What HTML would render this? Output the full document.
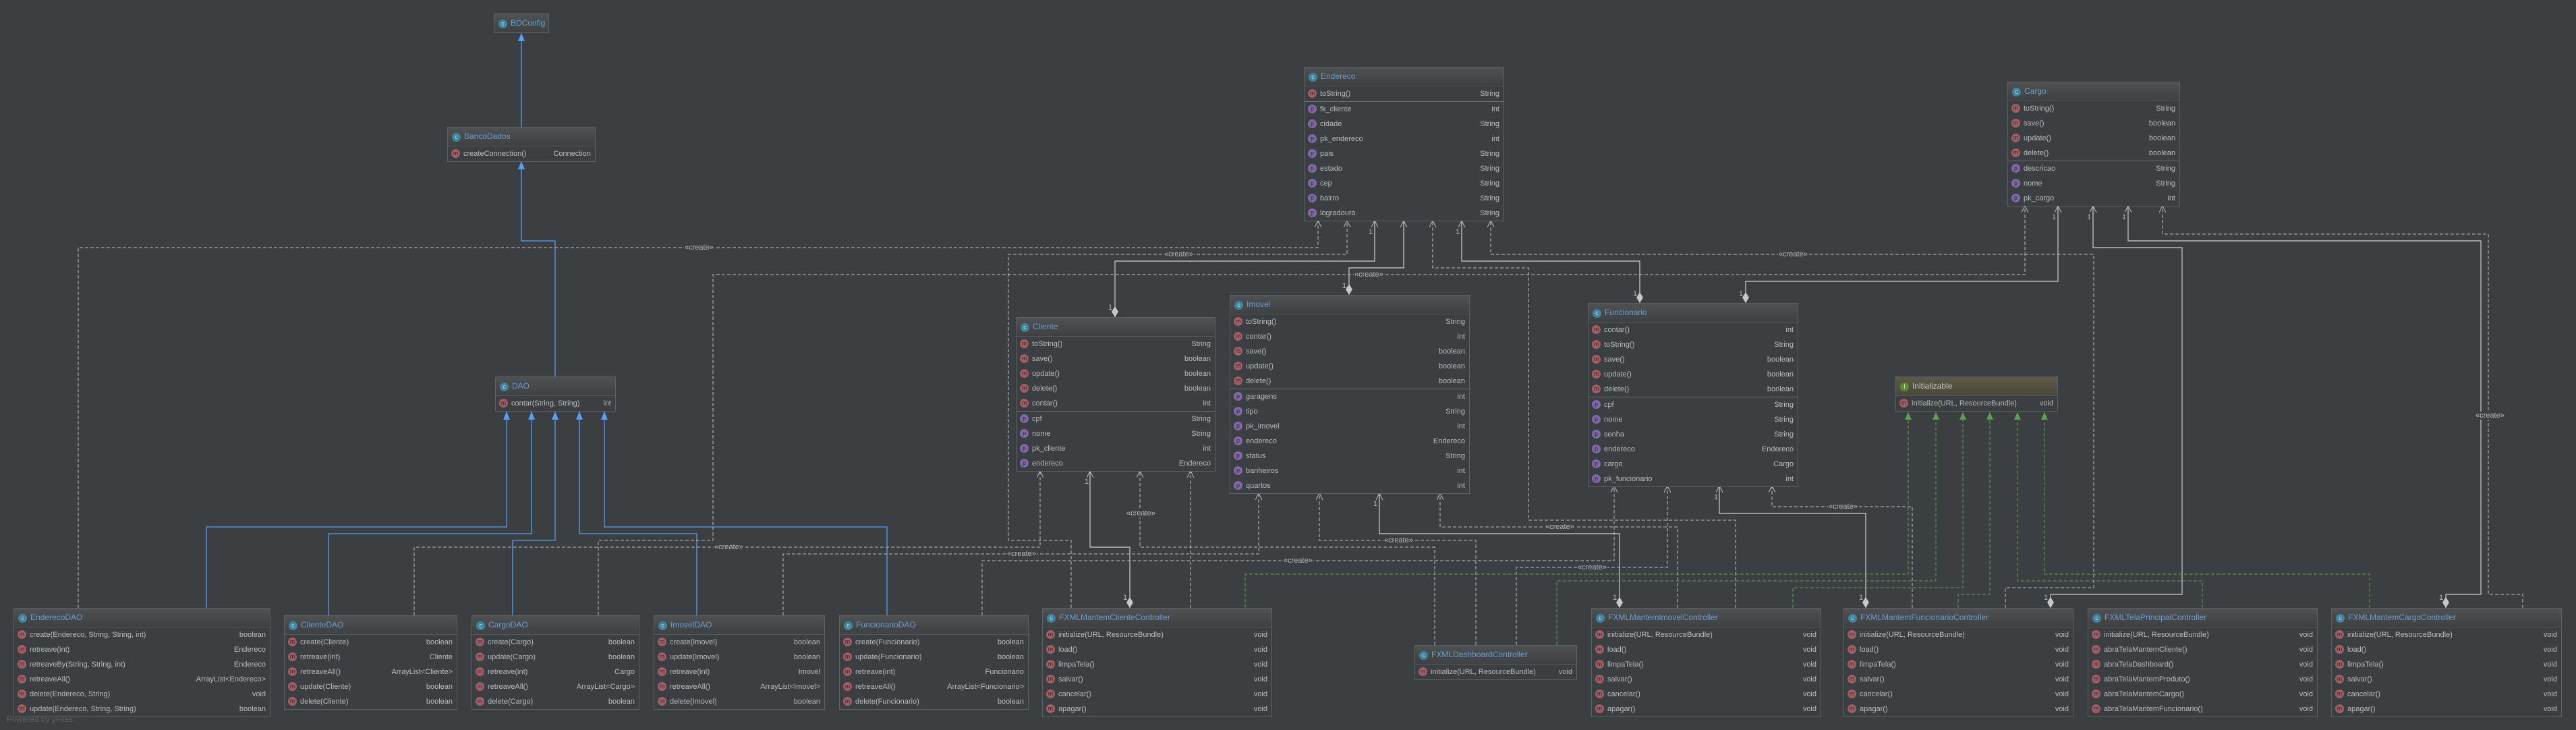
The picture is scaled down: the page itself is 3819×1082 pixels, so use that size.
<!DOCTYPE html>
<html><head><meta charset="utf-8"><style>
body{margin:0;width:3819px;height:1082px;background:#3c3f41;overflow:hidden;position:relative;font-family:"Liberation Sans",sans-serif}
.box{position:absolute;border:1px solid #5e6163;background:#3c3f41;box-sizing:border-box}
.h{height:27px;background:linear-gradient(#4f5153,#3e4042);border-bottom:1px solid #55585a;color:#6a9fcf;font-size:12px;line-height:27px;padding-left:6px;white-space:nowrap;overflow:hidden}
.h.in{background:linear-gradient(#5d5a48,#4a4839);color:#c8c8c8}
.r{height:22px;line-height:22px;font-size:11px;color:#bbbbbb;padding:0 6px 0 5px;display:flex;white-space:nowrap}
.r b{margin-left:auto;font-weight:normal;padding-left:8px}
.s{border-top:1px solid #6a6d70}
i{display:inline-block;width:13px;height:13px;border-radius:50%;font-size:9px;line-height:13px;text-align:center;margin:4px 5px 0 0;color:#2b2b2b;font-style:normal;flex:none}
i.m{background:#a35d66}i.p{background:#8068ab}i.c{background:#3e86a0;color:#cde}i.n{background:#5f8a3c;color:#dde}
svg{position:absolute;left:0;top:0}
.lb{position:absolute;font-size:11px;color:#b8b8b8;background:#3c3f41;line-height:12px;padding:0 1px}
.one{position:absolute;font-size:11px;color:#b8b8b8}
</style></head><body>
<svg width="3819" height="1082">
<defs>
<marker id="tb" markerWidth="12" markerHeight="14" refX="6" refY="0" orient="auto" markerUnits="userSpaceOnUse" viewBox="-6 -1 12 16"><path d="M0,0 L-5,12 L5,12Z" fill="#589df6" transform="rotate(90)"/></marker>
<marker id="oa" markerWidth="12" markerHeight="12" refX="10" refY="5" orient="auto" markerUnits="userSpaceOnUse"><path d="M0,0 L10,5 L0,10" fill="none" stroke="#bbb" stroke-width="1"/></marker>
<marker id="tg" markerWidth="12" markerHeight="12" refX="11" refY="5" orient="auto" markerUnits="userSpaceOnUse"><path d="M0,0 L11,5 L0,10Z" fill="#62a04d"/></marker>
<marker id="tbb" markerWidth="13" markerHeight="12" refX="12" refY="5" orient="auto" markerUnits="userSpaceOnUse"><path d="M0,0 L12,5 L0,10Z" fill="#589df6"/></marker>
<marker id="dm" markerWidth="18" markerHeight="10" refX="0" refY="5" orient="auto" markerUnits="userSpaceOnUse"><path d="M0,5 L8,0 L16,5 L8,10Z" fill="#c8c8c8"/></marker>
</defs>
<g fill="none" stroke="#589df6" stroke-width="1.3" marker-end="url(#tbb)">
<polyline points="773,188 773,49"/>
<polyline points="823,558 823,357 773,357 773,239"/>
<polyline points="306,901 306,781 751,781 751,610"/>
<polyline points="487,912 487,791 788,791 788,610"/>
<polyline points="760,912 760,801 823,801 823,610"/>
<polyline points="1033,912 1033,791 859,791 859,610"/>
<polyline points="1315,912 1315,781 896,781 896,610"/>
</g>
<g fill="none" stroke="#bdbdbd" stroke-width="1" stroke-dasharray="5,3" marker-end="url(#oa)">
<polyline points="116,901 116,367 1954,367 1954,327"/>
<polyline points="1588,901 1588,801 1495,801 1495,377 1997,377 1997,327"/>
<polyline points="2573,901 2573,771 2266,771 2266,397 2124,397 2124,327"/>
<polyline points="2973,901 2973,871 3104,871 3104,377 2210,377 2210,327"/>
<polyline points="887,912 887,801 1057,801 1057,407 3002,407 3002,305"/>
<polyline points="3740,901 3740,881 3689,881 3689,347 3206,347 3206,305"/>
<polyline points="1456,912 1456,831 2393,831 2393,720"/>
<polyline points="2248,956 2248,841 2472,841 2472,720"/>
<polyline points="2835,901 2835,751 2627,751 2627,720"/>
<polyline points="1161,912 1161,821 1866,821 1866,731"/>
<polyline points="2188,956 2188,801 1956,801 1956,731"/>
<polyline points="2487,901 2487,781 2135,781 2135,731"/>
<polyline points="614,912 614,811 1542,811 1542,698"/>
<polyline points="2127,956 2127,811 1690,811 1690,698"/>
<polyline points="1765,901 1765,698"/>
</g>
<g fill="none" stroke="#cfcfcf" stroke-width="1.2" marker-start="url(#dm)" marker-end="url(#oa)">
<polyline points="1653,470 1653,387 2038,387 2038,327"/>
<polyline points="2000,437 2000,397 2081,397 2081,327"/>
<polyline points="2431,449 2431,387 2167,387 2167,327"/>
<polyline points="2588,449 2588,417 3051,417 3051,305"/>
<polyline points="3040,901 3040,881 3235,881 3235,367 3103,367 3103,305"/>
<polyline points="3626,901 3626,881 3678,881 3678,357 3155,357 3155,305"/>
<polyline points="2766,901 2766,761 2549,761 2549,720"/>
<polyline points="2401,901 2401,791 2045,791 2045,731"/>
<polyline points="1675,901 1675,811 1616,811 1616,698"/>
</g>
<g fill="none" stroke="#62a04d" stroke-width="1" stroke-dasharray="5,3" marker-end="url(#tg)">
<polyline points="1846,901 1846,851 2829,851 2829,611"/>
<polyline points="2308,956 2308,861 2870,861 2870,611"/>
<polyline points="2658,901 2658,871 2910,871 2910,611"/>
<polyline points="2903,901 2903,881 2950,881 2950,611"/>
<polyline points="3265,901 3265,861 2991,861 2991,611"/>
<polyline points="3513,901 3513,851 3031,851 3031,611"/>
</g>
</svg>

<div class="lb" style="left:1014px;top:361px">«create»</div>
<div class="lb" style="left:1725px;top:371px">«create»</div>
<div class="lb" style="left:2636px;top:371px">«create»</div>
<div class="lb" style="left:2007px;top:401px">«create»</div>
<div class="lb" style="left:3669px;top:610px">«create»</div>
<div class="lb" style="left:1902px;top:825px">«create»</div>
<div class="lb" style="left:2338px;top:835px">«create»</div>
<div class="lb" style="left:2710px;top:745px">«create»</div>
<div class="lb" style="left:1492px;top:815px">«create»</div>
<div class="lb" style="left:2051px;top:795px">«create»</div>
<div class="lb" style="left:2290px;top:775px">«create»</div>
<div class="lb" style="left:1058px;top:805px">«create»</div>
<div class="lb" style="left:1669px;top:755px">«create»</div>

<div class="one" style="left:2029px;top:338px">1</div>
<div class="one" style="left:2158px;top:338px">1</div>
<div class="one" style="left:1643px;top:450px">1</div>
<div class="one" style="left:1990px;top:418px">1</div>
<div class="one" style="left:2421px;top:430px">1</div>
<div class="one" style="left:2578px;top:430px">1</div>
<div class="one" style="left:3042px;top:316px">1</div>
<div class="one" style="left:3094px;top:316px">1</div>
<div class="one" style="left:3146px;top:316px">1</div>
<div class="one" style="left:1608px;top:708px">1</div>
<div class="one" style="left:2036px;top:741px">1</div>
<div class="one" style="left:2541px;top:731px">1</div>
<div class="one" style="left:1665px;top:880px">1</div>
<div class="one" style="left:2391px;top:880px">1</div>
<div class="one" style="left:2756px;top:880px">1</div>
<div class="one" style="left:3030px;top:880px">1</div>
<div class="one" style="left:3616px;top:880px">1</div>

<div class="box" style="left:732px;top:20px;width:82px"><div class="h" style="border-bottom:0"><i class="c">c</i>BDConfig</div></div>

<div class="box" style="left:663px;top:188px;width:220px"><div class="h"><i class="c">c</i>BancoDados</div>
<div class="r"><i class="m">m</i>createConnection()<b>Connection</b></div></div>

<div class="box" style="left:1933px;top:99px;width:297px"><div class="h"><i class="c">c</i>Endereco</div>
<div class="r"><i class="m">m</i>toString()<b>String</b></div>
<div class="s"></div>
<div class="r"><i class="p">p</i>fk_cliente<b>int</b></div>
<div class="r"><i class="p">p</i>cidade<b>String</b></div>
<div class="r"><i class="p">p</i>pk_endereco<b>int</b></div>
<div class="r"><i class="p">p</i>pais<b>String</b></div>
<div class="r"><i class="p">p</i>estado<b>String</b></div>
<div class="r"><i class="p">p</i>cep<b>String</b></div>
<div class="r"><i class="p">p</i>bairro<b>String</b></div>
<div class="r"><i class="p">p</i>logradouro<b>String</b></div></div>

<div class="box" style="left:2976px;top:121px;width:256px"><div class="h"><i class="c">c</i>Cargo</div>
<div class="r"><i class="m">m</i>toString()<b>String</b></div>
<div class="r"><i class="m">m</i>save()<b>boolean</b></div>
<div class="r"><i class="m">m</i>update()<b>boolean</b></div>
<div class="r"><i class="m">m</i>delete()<b>boolean</b></div>
<div class="s"></div>
<div class="r"><i class="p">p</i>descricao<b>String</b></div>
<div class="r"><i class="p">p</i>nome<b>String</b></div>
<div class="r"><i class="p">p</i>pk_cargo<b>int</b></div></div>

<div class="box" style="left:1506px;top:470px;width:296px"><div class="h"><i class="c">c</i>Cliente</div>
<div class="r"><i class="m">m</i>toString()<b>String</b></div>
<div class="r"><i class="m">m</i>save()<b>boolean</b></div>
<div class="r"><i class="m">m</i>update()<b>boolean</b></div>
<div class="r"><i class="m">m</i>delete()<b>boolean</b></div>
<div class="r"><i class="m">m</i>contar()<b>int</b></div>
<div class="s"></div>
<div class="r"><i class="p">p</i>cpf<b>String</b></div>
<div class="r"><i class="p">p</i>nome<b>String</b></div>
<div class="r"><i class="p">p</i>pk_cliente<b>int</b></div>
<div class="r"><i class="p">p</i>endereco<b>Endereco</b></div></div>

<div class="box" style="left:1823px;top:437px;width:356px"><div class="h"><i class="c">c</i>Imovel</div>
<div class="r"><i class="m">m</i>toString()<b>String</b></div>
<div class="r"><i class="m">m</i>contar()<b>int</b></div>
<div class="r"><i class="m">m</i>save()<b>boolean</b></div>
<div class="r"><i class="m">m</i>update()<b>boolean</b></div>
<div class="r"><i class="m">m</i>delete()<b>boolean</b></div>
<div class="s"></div>
<div class="r"><i class="p">p</i>garagens<b>int</b></div>
<div class="r"><i class="p">p</i>tipo<b>String</b></div>
<div class="r"><i class="p">p</i>pk_imovel<b>int</b></div>
<div class="r"><i class="p">p</i>endereco<b>Endereco</b></div>
<div class="r"><i class="p">p</i>status<b>String</b></div>
<div class="r"><i class="p">p</i>banheiros<b>int</b></div>
<div class="r"><i class="p">p</i>quartos<b>int</b></div></div>

<div class="box" style="left:2354px;top:449px;width:312px"><div class="h"><i class="c">c</i>Funcionario</div>
<div class="r"><i class="m">m</i>contar()<b>int</b></div>
<div class="r"><i class="m">m</i>toString()<b>String</b></div>
<div class="r"><i class="m">m</i>save()<b>boolean</b></div>
<div class="r"><i class="m">m</i>update()<b>boolean</b></div>
<div class="r"><i class="m">m</i>delete()<b>boolean</b></div>
<div class="s"></div>
<div class="r"><i class="p">p</i>cpf<b>String</b></div>
<div class="r"><i class="p">p</i>nome<b>String</b></div>
<div class="r"><i class="p">p</i>senha<b>String</b></div>
<div class="r"><i class="p">p</i>endereco<b>Endereco</b></div>
<div class="r"><i class="p">p</i>cargo<b>Cargo</b></div>
<div class="r"><i class="p">p</i>pk_funcionario<b>int</b></div></div>

<div class="box" style="left:2810px;top:558px;width:241px"><div class="h in"><i class="n">I</i>Initializable</div>
<div class="r"><i class="m">m</i>initialize(URL, ResourceBundle)<b>void</b></div></div>

<div class="box" style="left:734px;top:558px;width:179px"><div class="h"><i class="c">c</i>DAO</div>
<div class="r"><i class="m">m</i>contar(String, String)<b>int</b></div></div>

<div class="box" style="left:20px;top:901px;width:381px"><div class="h"><i class="c">c</i>EnderecoDAO</div>
<div class="r"><i class="m">m</i>create(Endereco, String, String, int)<b>boolean</b></div>
<div class="r"><i class="m">m</i>retreave(int)<b>Endereco</b></div>
<div class="r"><i class="m">m</i>retreaveBy(String, String, int)<b>Endereco</b></div>
<div class="r"><i class="m">m</i>retreaveAll()<b>ArrayList&lt;Endereco&gt;</b></div>
<div class="r"><i class="m">m</i>delete(Endereco, String)<b>void</b></div>
<div class="r"><i class="m">m</i>update(Endereco, String, String)<b>boolean</b></div></div>

<div class="box" style="left:421px;top:912px;width:257px"><div class="h"><i class="c">c</i>ClienteDAO</div>
<div class="r"><i class="m">m</i>create(Cliente)<b>boolean</b></div>
<div class="r"><i class="m">m</i>retreave(int)<b>Cliente</b></div>
<div class="r"><i class="m">m</i>retreaveAll()<b>ArrayList&lt;Cliente&gt;</b></div>
<div class="r"><i class="m">m</i>update(Cliente)<b>boolean</b></div>
<div class="r"><i class="m">m</i>delete(Cliente)<b>boolean</b></div></div>

<div class="box" style="left:699px;top:912px;width:249px"><div class="h"><i class="c">c</i>CargoDAO</div>
<div class="r"><i class="m">m</i>create(Cargo)<b>boolean</b></div>
<div class="r"><i class="m">m</i>update(Cargo)<b>boolean</b></div>
<div class="r"><i class="m">m</i>retreave(int)<b>Cargo</b></div>
<div class="r"><i class="m">m</i>retreaveAll()<b>ArrayList&lt;Cargo&gt;</b></div>
<div class="r"><i class="m">m</i>delete(Cargo)<b>boolean</b></div></div>

<div class="box" style="left:969px;top:912px;width:254px"><div class="h"><i class="c">c</i>ImovelDAO</div>
<div class="r"><i class="m">m</i>create(Imovel)<b>boolean</b></div>
<div class="r"><i class="m">m</i>update(Imovel)<b>boolean</b></div>
<div class="r"><i class="m">m</i>retreave(int)<b>Imovel</b></div>
<div class="r"><i class="m">m</i>retreaveAll()<b>ArrayList&lt;Imovel&gt;</b></div>
<div class="r"><i class="m">m</i>delete(Imovel)<b>boolean</b></div></div>

<div class="box" style="left:1244px;top:912px;width:281px"><div class="h"><i class="c">c</i>FuncionarioDAO</div>
<div class="r"><i class="m">m</i>create(Funcionario)<b>boolean</b></div>
<div class="r"><i class="m">m</i>update(Funcionario)<b>boolean</b></div>
<div class="r"><i class="m">m</i>retreave(int)<b>Funcionario</b></div>
<div class="r"><i class="m">m</i>retreaveAll()<b>ArrayList&lt;Funcionario&gt;</b></div>
<div class="r"><i class="m">m</i>delete(Funcionario)<b>boolean</b></div></div>

<div class="box" style="left:1545px;top:901px;width:341px"><div class="h"><i class="c">c</i>FXMLMantemClienteController</div>
<div class="r"><i class="m">m</i>initialize(URL, ResourceBundle)<b>void</b></div>
<div class="r"><i class="m">m</i>load()<b>void</b></div>
<div class="r"><i class="m">m</i>limpaTela()<b>void</b></div>
<div class="r"><i class="m">m</i>salvar()<b>void</b></div>
<div class="r"><i class="m">m</i>cancelar()<b>void</b></div>
<div class="r"><i class="m">m</i>apagar()<b>void</b></div></div>

<div class="box" style="left:2097px;top:956px;width:241px"><div class="h"><i class="c">c</i>FXMLDashboardController</div>
<div class="r"><i class="m">m</i>initialize(URL, ResourceBundle)<b>void</b></div></div>

<div class="box" style="left:2359px;top:901px;width:341px"><div class="h"><i class="c">c</i>FXMLMantemImovelController</div>
<div class="r"><i class="m">m</i>initialize(URL, ResourceBundle)<b>void</b></div>
<div class="r"><i class="m">m</i>load()<b>void</b></div>
<div class="r"><i class="m">m</i>limpaTela()<b>void</b></div>
<div class="r"><i class="m">m</i>salvar()<b>void</b></div>
<div class="r"><i class="m">m</i>cancelar()<b>void</b></div>
<div class="r"><i class="m">m</i>apagar()<b>void</b></div></div>

<div class="box" style="left:2733px;top:901px;width:341px"><div class="h"><i class="c">c</i>FXMLMantemFuncionarioController</div>
<div class="r"><i class="m">m</i>initialize(URL, ResourceBundle)<b>void</b></div>
<div class="r"><i class="m">m</i>load()<b>void</b></div>
<div class="r"><i class="m">m</i>limpaTela()<b>void</b></div>
<div class="r"><i class="m">m</i>salvar()<b>void</b></div>
<div class="r"><i class="m">m</i>cancelar()<b>void</b></div>
<div class="r"><i class="m">m</i>apagar()<b>void</b></div></div>

<div class="box" style="left:3095px;top:901px;width:341px"><div class="h"><i class="c">c</i>FXMLTelaPrincipalController</div>
<div class="r"><i class="m">m</i>initialize(URL, ResourceBundle)<b>void</b></div>
<div class="r"><i class="m">m</i>abraTelaMantemCliente()<b>void</b></div>
<div class="r"><i class="m">m</i>abraTelaDashboard()<b>void</b></div>
<div class="r"><i class="m">m</i>abraTelaMantemProduto()<b>void</b></div>
<div class="r"><i class="m">m</i>abraTelaMantemCargo()<b>void</b></div>
<div class="r"><i class="m">m</i>abraTelaMantemFuncionario()<b>void</b></div></div>

<div class="box" style="left:3456px;top:901px;width:342px"><div class="h"><i class="c">c</i>FXMLMantemCargoController</div>
<div class="r"><i class="m">m</i>initialize(URL, ResourceBundle)<b>void</b></div>
<div class="r"><i class="m">m</i>load()<b>void</b></div>
<div class="r"><i class="m">m</i>limpaTela()<b>void</b></div>
<div class="r"><i class="m">m</i>salvar()<b>void</b></div>
<div class="r"><i class="m">m</i>cancelar()<b>void</b></div>
<div class="r"><i class="m">m</i>apagar()<b>void</b></div></div>

<div style="position:absolute;left:10px;top:1059px;font-size:12px;color:#5f6265">Powered by yFiles</div>
</body></html>
